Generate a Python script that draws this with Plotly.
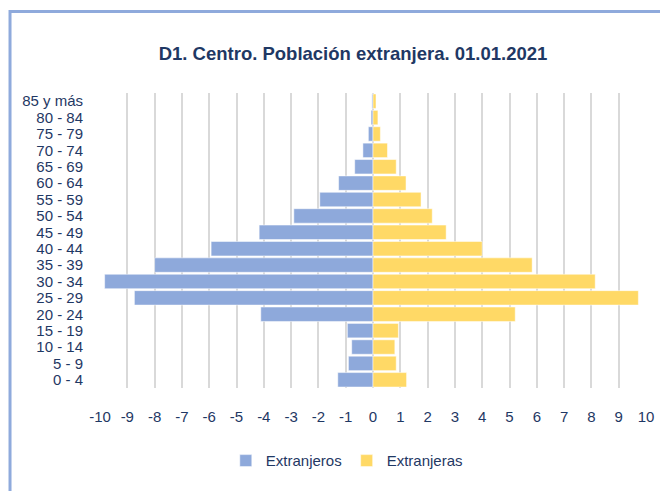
import plotly.graph_objects as go

# Grupos de edad (de abajo hacia arriba)
grupos = ['0 - 4', '5 - 9', '10 - 14', '15 - 19', '20 - 24', '25 - 29',
          '30 - 34', '35 - 39', '40 - 44', '45 - 49', '50 - 54', '55 - 59',
          '60 - 64', '65 - 69', '70 - 74', '75 - 79', '80 - 84', '85 y más']

# Porcentajes (hombres en negativo para la pirámide)
extranjeros = [-1.29, -0.90, -0.78, -0.94, -4.11, -8.74, -9.83, -8.00, -5.93,
               -4.17, -2.90, -1.95, -1.26, -0.67, -0.37, -0.17, -0.07, -0.04]
extranjeras = [1.23, 0.85, 0.80, 0.93, 5.21, 9.72, 8.14, 5.83, 4.00,
               2.68, 2.17, 1.76, 1.21, 0.85, 0.53, 0.27, 0.18, 0.11]

# Etiquetas del eje x
x_ticks = list(range(-10, 11))
x_labels = [str(v) for v in x_ticks]

azul = '#8EA9DB'
amarillo = '#FFD966'
texto = '#1F3864'
fuente = 'Liberation Sans, Arial, sans-serif'

fig = go.Figure()
fig.add_trace(go.Bar(
    y=grupos, x=extranjeros, orientation='h', name='Extranjeros',
    marker=dict(color=azul, line=dict(color='white', width=0.5))
))
fig.add_trace(go.Bar(
    y=grupos, x=extranjeras, orientation='h', name='Extranjeras',
    marker=dict(color=amarillo, line=dict(color='white', width=0.5))
))

# la página añade 8px de margen, así que el gráfico es 8px más pequeño
fig.update_layout(
    width=660, height=483,
    margin=dict(l=92, r=22, t=85, b=103, autoexpand=False),
    paper_bgcolor='white', plot_bgcolor='white',
    barmode='overlay', bargap=0.12,
    font=dict(family=fuente, size=15, color=texto),
    title=dict(
        text='<b>D1. Centro. Población extranjera. 01.01.2021</b>',
        x=0.5227, xanchor='center', xref='container',
        y=0.9054, yanchor='middle', yref='container',
        font=dict(size=18.5, color=texto, family=fuente)
    ),
    legend=dict(
        orientation='h', x=0.452, xanchor='center', y=-0.247, yanchor='middle',
        font=dict(size=15, color=texto), itemwidth=30, traceorder='normal'
    ),
    showlegend=True,
)

fig.update_xaxes(
    range=[-10, 10], tickvals=x_ticks, ticktext=x_labels,
    showgrid=True, gridcolor='#D9D9D9', gridwidth=1.5,
    zeroline=True, zerolinecolor='#D9D9D9', zerolinewidth=1.5,
    showline=False, ticks='', ticklabelstandoff=18, automargin=False,
    tickfont=dict(size=15, color=texto)
)
fig.update_yaxes(
    categoryorder='array', categoryarray=grupos,
    tickmode='array', tickvals=grupos, ticktext=grupos,
    showgrid=False, zeroline=False, showline=False, ticks='',
    ticklabelstandoff=16, automargin=False,
    tickfont=dict(size=15, color=texto)
)

# Marco exterior del gráfico
fig.add_shape(
    type='rect', xref='paper', yref='paper',
    x0=-0.1648, x1=1.07, y0=-0.40, y1=1.276,
    line=dict(color='#8FAADC', width=3), fillcolor='rgba(0,0,0,0)',
    layer='above'
)

fig.write_html('out.html')
